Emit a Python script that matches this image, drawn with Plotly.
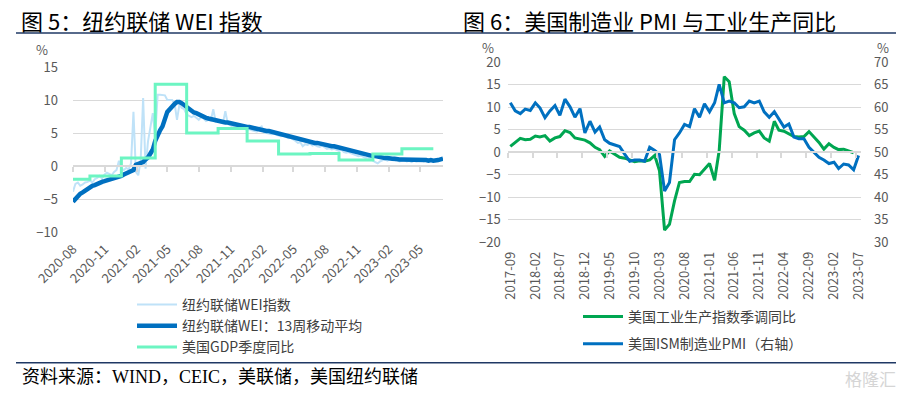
import plotly.graph_objects as go
import pandas as pd

# ---------------- Left chart data (weekly) ----------------
wei_start = "2020-08-01"
wei_weeks = 154
wei_index = [
    -3.9, -2.7, -2.5, -3.0, -2.8, -2.5, -2.4, -2.2, -2.5, -2.0,
    -1.8, -1.5, -1.9, -1.3, -1.0, -1.2, -1.4, -0.9, -0.6, 0.8,
    -0.4, -0.6, -0.3, -0.5, 0.4, 8.2, -0.9, -1.4, 1.0, 10.3,
    -0.4, 3.7, 6.0, 8.0, 4.5, 10.8, 10.8, 10.8, 10.7, 10.0,
    10.0, 10.0, 9.5, 7.0, 9.3, 8.8, 8.6, 7.8, 7.6, 7.4,
    7.6, 7.3, 7.0, 7.4, 7.2, 6.8, 7.0, 6.9, 8.6, 6.7,
    6.8, 6.6, 6.5, 8.3, 6.4, 6.2, 5.9, 6.1, 5.8, 5.9,
    5.7, 5.6, 5.5, 5.6, 5.4, 5.3, 5.2, 5.8, 6.0, 5.1,
    5.0, 5.0, 4.8, 4.9, 4.7, 4.6, 4.5, 4.6, 4.4, 4.2,
    4.3, 4.1, 3.8, 3.5, 3.6, 3.0, 3.3, 3.2, 3.4, 3.1,
    3.2, 3.0, 2.9, 3.1, 2.8, 2.6, 2.7, 2.5, 2.6, 2.4,
    2.3, 2.5, 2.1, 2.0, 2.1, 1.9, 1.8, 1.7, 1.5, 1.6,
    1.4, 1.2, 1.3, 1.0, 0.8, 0.6, 0.4, 0.7, 0.9, 1.0,
    0.8, 1.0, 0.9, 0.8, 0.9, 0.7, 0.8, 0.9, 0.7, 0.8,
    0.6, 0.8, 0.7, 0.8, 0.9, 0.7, 0.8, 0.9, 0.8, 0.7,
    0.8, 0.9, 1.0, 1.0,
]
wei_ma13 = [
    -5.4, -5.0, -4.5, -4.2, -4.0, -3.7, -3.4, -3.1, -3.0, -2.9,
    -2.7, -2.6, -2.4, -2.3, -2.2, -2.0, -1.9, -1.8, -1.7, -1.6,
    -1.5, -1.3, -1.1, -0.9, -0.7, -0.6, 0.2, 0.3, 0.5, 0.6,
    1.0, 1.3, 1.9, 2.5, 3.8, 4.8, 5.4, 6.0, 7.2, 8.2,
    8.6, 9.1, 9.4, 9.7, 9.7, 9.5, 9.2, 8.8, 8.5, 8.3,
    8.1, 8.0, 7.8, 7.6, 7.5, 7.3, 7.2, 7.1, 7.0, 6.9,
    6.9, 6.8, 6.7, 6.6, 6.6, 6.5, 6.4, 6.3, 6.3, 6.2,
    6.1, 6.0, 5.9, 5.9, 5.8, 5.8, 5.7, 5.6, 5.5, 5.4,
    5.3, 5.3, 5.2, 5.1, 5.0, 5.0, 4.9, 4.8, 4.7, 4.6,
    4.5, 4.4, 4.3, 4.1, 4.0, 3.9, 3.9, 3.8, 3.7, 3.6,
    3.5, 3.5, 3.4, 3.3, 3.3, 3.2, 3.1, 3.0, 3.0, 2.9,
    2.8, 2.7, 2.6, 2.5, 2.5, 2.4, 2.3, 2.2, 2.1, 2.0,
    1.9, 1.8, 1.7, 1.6, 1.5, 1.5, 1.4, 1.3, 1.3, 1.2,
    1.2, 1.1, 1.1, 1.1, 1.0, 1.0, 1.0, 1.0, 1.0, 1.0,
    1.0, 1.0, 0.9, 0.9, 0.9, 0.9, 0.9, 0.8, 0.9, 0.8,
    0.8, 0.9, 1.0, 1.1,
]
gdp_dates = ["2020-08-01", "2020-09-19", "2020-12-19", "2021-03-27", "2021-06-26",
             "2021-09-25", "2021-12-18", "2022-03-19", "2022-06-18", "2022-09-10",
             "2022-12-17", "2023-03-11", "2023-06-10"]
gdp_yoy = [-2.0, -1.5, 1.2, 12.4, 5.0, 5.7, 3.8, 1.8, 1.9, 0.9, 1.8, 2.6, 2.6]

# ---------------- Right chart data (monthly) ----------------
month_start = "2017-09-01"
ip_yoy = [
    1.3, 2.2, 3.1, 2.8, 2.9, 3.6, 3.4, 3.7, 2.5, 3.2,
    3.5, 4.8, 4.4, 3.2, 2.9, 2.7, 2.1, 1.1, 0.6, -0.9,
    0.3, -0.4, -1.1, -1.3, -1.7, -2.1, -1.9, -2.0, -1.7, -0.7,
    -4.1, -17.3, -16.0, -10.8, -6.7, -6.5, -6.5, -4.9, -5.0, -3.7,
    -2.5, -6.2, 0.4, 16.8, 15.7, 8.6, 5.7, 4.9, 3.7, 4.3,
    4.7, 3.2, 2.5, 6.9, 4.9, 4.7, 4.1, 3.5, 3.4, 3.5,
    4.6, 3.5, 2.2, 0.7, 1.9, 1.1, 0.6, 0.7, 0.3, -0.1,
]
ism_pmi = [
    61.0, 59.2, 58.6, 59.6, 59.3, 61.0, 59.9, 57.7, 59.2, 60.4,
    58.2, 61.8, 60.1, 57.8, 59.7, 54.3, 56.9, 54.5, 55.6, 52.8,
    52.0, 51.7, 51.3, 49.6, 48.0, 48.3, 48.3, 48.0, 51.1, 50.4,
    49.5, 41.4, 43.3, 52.8, 54.3, 56.2, 55.7, 59.7, 57.8, 60.8,
    59.0, 61.0, 65.1, 61.0, 61.4, 61.0, 59.9, 60.1, 61.4, 61.0,
    61.4, 59.0, 57.8, 59.0, 57.5, 55.6, 56.3, 53.4, 53.0, 53.0,
    51.1, 50.0, 48.9, 48.3, 47.5, 47.8, 46.4, 47.4, 47.2, 46.1,
    49.3,
]

left_title = "图 5：纽约联储 WEI 指数"
right_title = "图 6：美国制造业 PMI 与工业生产同比"
source_text = "资料来源：WIND，CEIC，美联储，美国纽约联储"

wei_dates = pd.date_range(wei_start, periods=wei_weeks, freq="7D")
pmi_dates = pd.date_range(month_start, periods=len(ism_pmi), freq="MS")
ip_dates = pmi_dates[:len(ip_yoy)]

# the page body has an 8px margin; figure is sized to fill the rest of the window
OFF = 8
W, H = 904 - OFF, 393 - OFF
def px(x):
    return (x - OFF) / W
def py(y):
    return 1 - (y - OFF) / H

CJK = "Noto Sans CJK SC"
TICK = dict(family=CJK, size=13, color="#595959")
GRID = "#D9D9D9"

fig = go.Figure()
fig.add_trace(go.Scatter(x=wei_dates, y=wei_index, name="纽约联储WEI指数", mode="lines",
                         line=dict(color="#BFE2F8", width=2), xaxis="x", yaxis="y",
                         legend="legend", legendgroup="a"))
fig.add_trace(go.Scatter(x=wei_dates, y=wei_ma13, name="纽约联储WEI：13周移动平均", mode="lines",
                         line=dict(color="#0070C0", width=4.5), xaxis="x", yaxis="y",
                         legend="legend", legendgroup="b"))
fig.add_trace(go.Scatter(x=gdp_dates, y=gdp_yoy, name="美国GDP季度同比", mode="lines",
                         line=dict(color="#6CF5C2", width=3, shape="hv"), xaxis="x", yaxis="y",
                         legend="legend", legendgroup="c"))
fig.add_trace(go.Scatter(x=[], y=[], xaxis="x2", yaxis="y", showlegend=False, hoverinfo="skip"))

fig.add_trace(go.Scatter(x=ip_dates, y=ip_yoy, name="美国工业生产指数季调同比", mode="lines",
                         line=dict(color="#00A651", width=3), xaxis="x3", yaxis="y3",
                         legend="legend2", legendgroup="d"))
fig.add_trace(go.Scatter(x=pmi_dates, y=ism_pmi, name="美国ISM制造业PMI（右轴）", mode="lines",
                         line=dict(color="#0070C0", width=3), xaxis="x3", yaxis="y4",
                         legend="legend2", legendgroup="e"))
fig.add_trace(go.Scatter(x=[], y=[], xaxis="x4", yaxis="y3", showlegend=False, hoverinfo="skip"))

L_dom_x = [px(73), px(443)]
L_dom_y = [py(232), py(67)]
R_dom_x = [px(507.7), px(861)]
R_dom_y = [py(242.3), py(62.3)]
L_range_x = ["2020-08-01", "2023-07-08"]
R_range_x = ["2017-08-16", "2023-07-16"]

fig.update_layout(
    template="none",
    width=W, height=H, margin=dict(l=0, r=0, t=0, b=0, autoexpand=False),
    paper_bgcolor="white", plot_bgcolor="white",
    font=dict(family=CJK, color="#595959"),
    xaxis=dict(domain=L_dom_x, anchor="y", type="date", range=L_range_x,
               tick0="2020-08-01", dtick="M3", tickformat="%Y-%m", tickangle=-45,
               showgrid=False, showline=False, zeroline=False, ticks="",
               tickfont=TICK, ticklabelstandoff=6, automargin=False),
    xaxis2=dict(domain=L_dom_x, overlaying="x", anchor="free",
                position=L_dom_y[0] + 0.4 * (L_dom_y[1] - L_dom_y[0]),
                type="date", range=L_range_x, tick0="2020-08-01", dtick="M3",
                showticklabels=False, showgrid=False, zeroline=False,
                showline=True, linecolor=GRID, linewidth=2, automargin=False,
                ticks="outside", ticklen=5, tickcolor=GRID, tickwidth=1.5),
    yaxis=dict(domain=L_dom_y, anchor="x", range=[-10, 15], dtick=5, tick0=0,
               showgrid=True, gridcolor=GRID, gridwidth=1, zeroline=False,
               showline=False, ticks="", tickfont=TICK, ticklabelstandoff=14, automargin=False),
    xaxis3=dict(domain=R_dom_x, anchor="y3", type="date", range=R_range_x,
                tick0="2017-09-01", dtick="M5", tickformat="%Y-%m", tickangle=-90,
                showgrid=False, showline=False, zeroline=False, ticks="",
                tickfont=TICK, ticklabelstandoff=6, automargin=False),
    xaxis4=dict(domain=R_dom_x, overlaying="x3", anchor="free",
                position=R_dom_y[0] + 0.5 * (R_dom_y[1] - R_dom_y[0]),
                type="date", range=R_range_x, tick0="2017-08-16", dtick="M5",
                showticklabels=False, showgrid=False, zeroline=False,
                showline=True, linecolor=GRID, linewidth=2, automargin=False,
                ticks="outside", ticklen=5, tickcolor=GRID, tickwidth=1.5),
    yaxis3=dict(domain=R_dom_y, anchor="x3", range=[-20, 20], dtick=5, tick0=0,
                showgrid=True, gridcolor=GRID, gridwidth=1, zeroline=False,
                showline=False, ticks="", tickfont=TICK, ticklabelstandoff=6, automargin=False),
    yaxis4=dict(domain=R_dom_y, anchor="x3", overlaying="y3", side="right",
                range=[30, 70], dtick=5, tick0=30, showgrid=False, zeroline=False,
                showline=False, ticks="", tickfont=TICK, ticklabelstandoff=12, automargin=False),
    legend=dict(x=px(132), y=py(289), xanchor="left", yanchor="top",
                bgcolor="rgba(0,0,0,0)", font=dict(family=CJK, size=14, color="#404040"),
                itemwidth=40, tracegroupgap=0, traceorder="grouped"),
    legend2=dict(x=px(578), y=py(301), xanchor="left", yanchor="top",
                 bgcolor="rgba(0,0,0,0)", font=dict(family=CJK, size=14, color="#404040"),
                 itemwidth=40, tracegroupgap=6, traceorder="grouped"),
    showlegend=True,
)

# titles, rules and source
fig.add_annotation(x=px(19), y=py(20), xref="paper", yref="paper", text=left_title,
                   showarrow=False, xanchor="left", yanchor="middle",
                   font=dict(family=CJK, size=22, color="#000000"))
fig.add_annotation(x=px(461), y=py(20), xref="paper", yref="paper", text=right_title,
                   showarrow=False, xanchor="left", yanchor="middle",
                   font=dict(family=CJK, size=22, color="#000000"))
fig.add_shape(type="line", xref="paper", yref="paper", x0=px(16), x1=px(900), y0=py(33), y1=py(33),
              line=dict(color="#1F3864", width=1.5))
fig.add_shape(type="line", xref="paper", yref="paper", x0=px(16), x1=px(900), y0=py(362.7), y1=py(362.7),
              line=dict(color="#1F3864", width=1.5))
fig.add_annotation(x=px(20), y=py(377), xref="paper", yref="paper", text=source_text,
                   showarrow=False, xanchor="left", yanchor="middle",
                   font=dict(family="Liberation Serif, " + CJK, size=18, color="#000000"))
fig.add_annotation(x=px(898), y=py(378), xref="paper", yref="paper", text="格隆汇",
                   showarrow=False, xanchor="right", yanchor="middle",
                   font=dict(family=CJK, size=17, color="#D5D5D5"))

# percent unit labels
for xx, yy in [(41.5, 49.5), (488, 47), (883, 47)]:
    fig.add_annotation(x=px(xx), y=py(yy), xref="paper", yref="paper", text="%",
                       showarrow=False, xanchor="center", yanchor="middle",
                       font=dict(family=CJK, size=13, color="#595959"))

fig.write_html("out.html")
